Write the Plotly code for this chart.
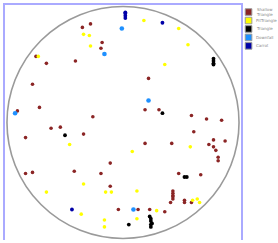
import plotly.graph_objects as go

# ---- data (stereonet-style projection, unit circle) ----
categories = ["Shallow Triangle", "PitTriangle", "Triangle", "Downfall", "Carrot"]
legend_labels = ["Shallow<br>Triangle", "PitTriangle", "Triangle", "Downfall", "Carrot"]
colors = ["#8B2525", "#FFFF00", "#000000", "#1E90FF", "#0000A8"]
sizes = [3.6, 3.6, 3.8, 4.6, 3.8]

shallow_x = [-0.35, -0.28, -0.18, -0.19, -0.75, -0.66, -0.41, -0.78, -0.72, -0.91, -0.26,
             0.22, 0.19, 0.31, 0.59, 0.72, 0.85, -0.62, -0.54, -0.34, -0.84, -0.11,
             -0.84, -0.78, -0.42, -0.19, -0.11, -0.04, 0.13, 0.61, 0.19, 0.42, 0.78,
             0.88, 0.74, 0.78, 0.80, 0.82, 0.82, 0.48, 0.67, 0.43, 0.43, 0.43, 0.43,
             0.43, 0.41, 0.53, 0.53, 0.59, 0.23, 0.36]
shallow_y = [0.82, 0.85, 0.69, 0.64, 0.57, 0.51, 0.53, 0.33, 0.13, 0.10, 0.05,
             0.38, 0.11, 0.11, 0.06, 0.03, 0.02, -0.05, -0.04, -0.10, -0.13, -0.35,
             -0.44, -0.43, -0.42, -0.44, -0.55, -0.75, -0.75, -0.08, -0.18, -0.18, -0.15,
             -0.16, -0.19, -0.21, -0.24, -0.30, -0.33, -0.44, -0.45, -0.59, -0.61, -0.63,
             -0.64, -0.66, -0.69, -0.67, -0.69, -0.69, -0.75, -0.77]

pit_x = [-0.34, -0.29, -0.28, -0.73, 0.18, 0.48, 0.56, 0.36, -0.46, 0.08, -0.34, -0.66,
         -0.15, -0.10, 0.12, -0.36, -0.16, 0.12, -0.16, 0.58, 0.60, 0.64, 0.66, 0.29]
pit_y = [0.76, 0.75, 0.66, 0.57, 0.88, 0.81, 0.67, 0.50, -0.19, -0.25, -0.53, -0.60,
         -0.60, -0.60, -0.59, -0.79, -0.84, -0.83, -0.90, -0.21, -0.67, -0.66, -0.69, -0.76]

tri_x = [0.78, 0.78, 0.78, 0.78, 0.34, -0.50, 0.05, 0.53, 0.55,
         0.23, 0.24, 0.24, 0.25, 0.24, 0.24]
tri_y = [0.55, 0.53, 0.51, 0.50, 0.08, -0.11, -0.88, -0.47, -0.47,
         -0.81, -0.83, -0.85, -0.87, -0.88, -0.90]

down_x = [-0.01, -0.16, -0.93, 0.22, 0.09]
down_y = [0.81, 0.59, 0.08, 0.19, -0.75]

carrot_x = [0.02, 0.02, 0.02, 0.02, 0.34, -0.44]
carrot_y = [0.95, 0.94, 0.92, 0.90, 0.86, -0.75]

series_x = [shallow_x, pit_x, tri_x, down_x, carrot_x]
series_y = [shallow_y, pit_y, tri_y, down_y, carrot_y]

R = 1.0  # net radius

fig = go.Figure()
for name, xs, ys, c, s in zip(categories, series_x, series_y, colors, sizes):
    fig.add_trace(go.Scatter(x=xs, y=ys, mode="markers", name=name,
                             marker=dict(color=c, size=s, line=dict(width=0)),
                             showlegend=False))

# primitive circle
fig.add_shape(type="circle", xref="x", yref="y", x0=-R, y0=-R, x1=R, y1=R,
              line=dict(color="#9a9a9a", width=1.6), layer="below")

# custom compact legend
top = 0.97
step = 0.036
for i, (lab, c) in enumerate(zip(legend_labels, colors)):
    yc = top - i * step
    fig.add_shape(type="rect", xref="paper", yref="paper",
                  x0=1.018, x1=1.046, y0=yc - 0.014, y1=yc + 0.014,
                  fillcolor=c, line=dict(color="#999999", width=1))
    fig.add_annotation(x=1.055, y=yc, xref="paper", yref="paper", text=lab,
                       showarrow=False, xanchor="left", yanchor="middle",
                       font=dict(size=4, color="#888888", family="DejaVu Sans"),
                       align="left")

lim = 1.017
fig.update_layout(
    width=278, height=243,
    margin=dict(l=5, r=37, t=5, b=3),
    paper_bgcolor="white", plot_bgcolor="white",
    xaxis=dict(range=[-lim, lim], showgrid=False, zeroline=False, showticklabels=False,
               ticks="", side="top", showline=True, linecolor="#aaaaff", linewidth=2),
    yaxis=dict(range=[-1.013, 1.013], showgrid=False, zeroline=False, showticklabels=False,
               ticks="", showline=True, mirror=True, linecolor="#aaaaff", linewidth=2),
)

fig.write_html("out.html", config={"displayModeBar": False},
               post_script="document.body.style.margin='0';document.body.style.overflow='hidden';")
